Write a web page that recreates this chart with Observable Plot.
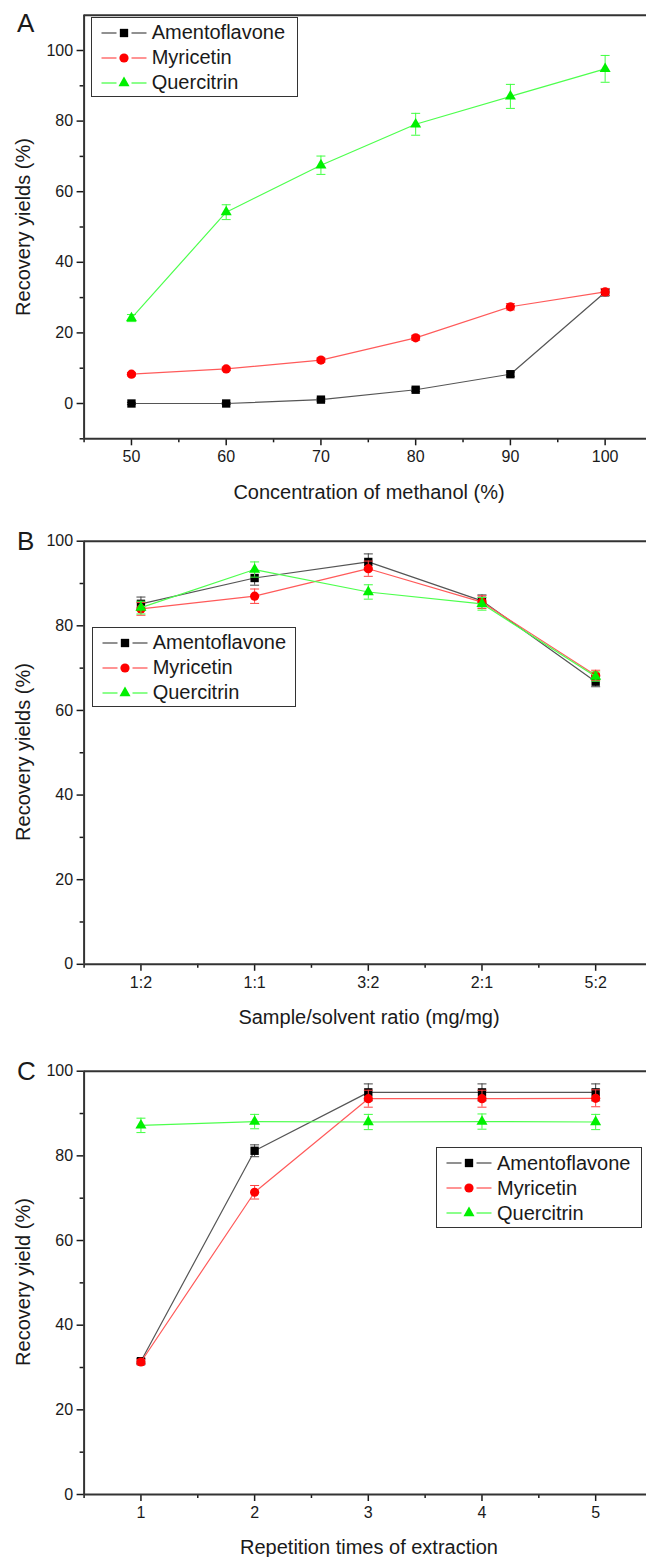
<!DOCTYPE html>
<html><head><meta charset="utf-8">
<script src="https://cdn.jsdelivr.net/npm/d3@7"></script>
<script src="https://cdn.jsdelivr.net/npm/@observablehq/plot@0.6"></script>
<style>
html,body{margin:0;background:#fff;font-family:Arial,"Liberation Sans",sans-serif;color:#1a1a1a;overflow:hidden}
#root{position:relative;width:646px;height:1557px;overflow:hidden;background:#fff}
.panel{position:absolute;left:0;width:646px;overflow:hidden}
.panel svg{max-width:none !important}
.letter{position:absolute;font-size:26px;line-height:1}
.xt{position:absolute;font-size:20px;line-height:1;white-space:nowrap;transform:translate(-50%,-50%)}
.yt{position:absolute;font-size:20px;line-height:1;white-space:nowrap;transform:translate(-50%,-50%) rotate(-90deg)}
.legend{position:absolute;border:1.5px solid #333;background:#fff;box-sizing:border-box}
.row{position:absolute;left:0;height:24px;display:flex;align-items:center;font-size:20px;white-space:nowrap}
</style></head><body><div id="root"></div>
<script>
// ---- shared ----
const seriesNames = ["Amentoflavone", "Myricetin", "Quercitrin"];
const seriesSymbols = ["square", "circle", "triangle"];
const lineColors = ["#555555", "#ff5a5a", "#4dff4d"];
const markerColors = ["#000000", "#ff0000", "#00f000"];
const errColors = ["#444444", "#ff4040", "#40ff40"];

// ---- Panel A: concentration of methanol ----
const methanolConc = [50, 60, 70, 80, 90, 100];
const aAmento = [0, 0, 1.1, 3.9, 8.3, 31.5];
const aAmentoErr = [0.3, 0.3, 0.4, 0.5, 0.6, 0.9];
const aMyric = [8.3, 9.8, 12.3, 18.6, 27.4, 31.6];
const aMyricErr = [0.5, 0.5, 0.6, 0.7, 0.9, 1.0];
const aQuerc = [24.2, 54.2, 67.5, 79.1, 87.0, 94.8];
const aQuercErr = [1.0, 2.1, 2.6, 3.1, 3.4, 3.8];
const aXTicks = [50, 60, 70, 80, 90, 100];
const aXMinor = [45, 55, 65, 75, 85, 95, 105];
const aYTicks = [0, 20, 40, 60, 80, 100];
const aYMinor = [-10, 10, 30, 50, 70, 90];

// ---- Panel B: sample/solvent ratio ----
const ratioLabels = ["1:2", "1:1", "3:2", "2:1", "5:2"];
const ratioPos = [1, 2, 3, 4, 5];
const bAmento = [85.2, 91.3, 95.1, 85.9, 66.8];
const bAmentoErr = [1.6, 1.7, 1.9, 1.4, 1.2];
const bMyric = [84.0, 87.0, 93.5, 85.6, 68.3];
const bMyricErr = [1.5, 1.7, 1.8, 1.5, 1.2];
const bQuerc = [84.3, 93.3, 88.0, 85.2, 68.0];
const bQuercErr = [1.5, 1.8, 1.7, 1.5, 1.1];

// ---- Panel C: repetition times ----
const repetitions = [1, 2, 3, 4, 5];
const cAmento = [31.5, 81.2, 95.0, 95.0, 95.0];
const cAmentoErr = [0.6, 1.4, 2.0, 2.0, 2.0];
const cMyric = [31.3, 71.4, 93.5, 93.5, 93.6];
const cMyricErr = [0.6, 1.6, 2.0, 2.0, 2.0];
const cQuerc = [87.2, 88.1, 88.0, 88.1, 88.0];
const cQuercErr = [1.7, 1.7, 1.8, 1.8, 1.8];

const catXMinor = [0.5, 1.5, 2.5, 3.5, 4.5, 5.5];
const pctTicks = [0, 20, 40, 60, 80, 100];
const pctMinor = [10, 30, 50, 70, 90];

const markerR = {square: 4.7, circle: 4.6, triangle: 4.1};
const capSymbol = {draw(ctx) { ctx.moveTo(-4.5, 0); ctx.lineTo(4.5, 0); }};

function rowsOf(xs, values, errs) {
  return xs.map((x, i) => ({x, y: values[i], e: errs[i]}));
}

const svgWidth = 652;

function makePlot(cfg) {
  const marks = [
    Plot.axisY(cfg.yMajor, {tickSize: 7, tickPadding: 4, strokeWidth: 1.5, label: null}),
    Plot.axisY(cfg.yMinor, {tickSize: 4, tickFormat: () => "", strokeWidth: 1.5, label: null}),
    Plot.axisX(cfg.xMajor, {tickSize: 7, tickPadding: 5, strokeWidth: 1.5, tickFormat: cfg.xFormat, label: null}),
    Plot.axisX(cfg.xMinor, {tickSize: 4, tickFormat: () => "", strokeWidth: 1.5, label: null}),
    Plot.ruleX([cfg.xDomain[0]], {stroke: "#333", strokeWidth: 2}),
    Plot.ruleY([cfg.yDomain[0], cfg.yDomain[1]], {stroke: "#333", strokeWidth: 2})
  ];
  cfg.series.forEach((rows, i) => {
    marks.push(Plot.line(rows, {x: "x", y: "y", stroke: lineColors[i], strokeWidth: 1.2}));
    marks.push(Plot.ruleX(rows, {x: "x", y1: d => d.y - d.e, y2: d => d.y + d.e, stroke: errColors[i], strokeWidth: 1}));
    marks.push(Plot.dot(rows, {x: "x", y: d => d.y + d.e, symbol: capSymbol, fill: "none", stroke: errColors[i], strokeWidth: 1}));
    marks.push(Plot.dot(rows, {x: "x", y: d => d.y - d.e, symbol: capSymbol, fill: "none", stroke: errColors[i], strokeWidth: 1}));
    marks.push(Plot.dot(rows, {x: "x", y: "y", symbol: seriesSymbols[i], r: markerR[seriesSymbols[i]], fill: markerColors[i], stroke: "none"}));
  });
  return Plot.plot({
    width: svgWidth, height: cfg.height,
    marginTop: cfg.marginTop, marginBottom: cfg.marginBottom, marginLeft: 83.6, marginRight: 0,
    x: {domain: cfg.xDomain}, y: {domain: cfg.yDomain},
    style: {fontSize: "16px", fontFamily: "Arial, 'Liberation Sans', sans-serif", color: "#1a1a1a", background: "transparent", overflow: "hidden", maxWidth: "none"},
    marks
  });
}

function legendBox(parent, left, top, width, height) {
  const box = document.createElement("div");
  box.className = "legend";
  Object.assign(box.style, {left: left + "px", top: top + "px", width: width + "px", height: height + "px"});
  seriesNames.forEach((name, i) => {
    const row = document.createElement("div");
    row.className = "row";
    row.style.top = (15.1 + 25 * i - 12) + "px";
    const svg = d3.create("svg").attr("width", 60).attr("height", 24).style("flex", "none");
    svg.append("line").attr("x1", 9.5).attr("x2", 24.5).attr("y1", 12).attr("y2", 12).attr("stroke", lineColors[i]).attr("stroke-width", 1.3);
    svg.append("line").attr("x1", 39.5).attr("x2", 54.5).attr("y1", 12).attr("y2", 12).attr("stroke", lineColors[i]).attr("stroke-width", 1.3);
    const sym = {square: d3.symbolSquare, circle: d3.symbolCircle, triangle: d3.symbolTriangle}[seriesSymbols[i]];
    const r = markerR[seriesSymbols[i]];
    svg.append("path").attr("transform", "translate(32,12)").attr("d", d3.symbol(sym, Math.PI * r * r)()).attr("fill", markerColors[i]);
    row.appendChild(svg.node());
    const t = document.createElement("span");
    t.textContent = name;
    row.appendChild(t);
    box.appendChild(row);
  });
  parent.appendChild(box);
}

function addText(parent, cls, text, x, y) {
  const el = document.createElement("div");
  el.className = cls;
  el.textContent = text;
  el.style.left = x + "px";
  el.style.top = y + "px";
  parent.appendChild(el);
}

const root = document.getElementById("root");

const panels = [
  {
    top: 0, height: 470, marginTop: 14.7, marginBottom: 31.7,
    xDomain: [45, 105], yDomain: [-10, 110],
    xMajor: aXTicks, xMinor: aXMinor, yMajor: aYTicks, yMinor: aYMinor, xFormat: d => String(d),
    series: [rowsOf(methanolConc, aAmento, aAmentoErr), rowsOf(methanolConc, aMyric, aMyricErr), rowsOf(methanolConc, aQuerc, aQuercErr)],
    letter: "A", letterTop: 10, xTitle: "Concentration of methanol (%)", xTitleY: 491.7,
    yTitle: "Recovery yields (%)", legend: [90.7, 16.7, 207, 80.6]
  },
  {
    top: 520, height: 475, marginTop: 20.7, marginBottom: 31.2,
    xDomain: [0.5, 5.5], yDomain: [0, 100],
    xMajor: ratioPos, xMinor: catXMinor, yMajor: pctTicks, yMinor: pctMinor, xFormat: d => ratioLabels[d - 1],
    series: [rowsOf(ratioPos, bAmento, bAmentoErr), rowsOf(ratioPos, bMyric, bMyricErr), rowsOf(ratioPos, bQuerc, bQuercErr)],
    letter: "B", letterTop: 528, xTitle: "Sample/solvent ratio (mg/mg)", xTitleY: 1016.7,
    yTitle: "Recovery yields (%)", legend: [91.7, 626.7, 204.5, 80.6]
  },
  {
    top: 1050, height: 476, marginTop: 20.7, marginBottom: 32,
    xDomain: [0.5, 5.5], yDomain: [0, 100],
    xMajor: repetitions, xMinor: catXMinor, yMajor: pctTicks, yMinor: pctMinor, xFormat: d => String(d),
    series: [rowsOf(repetitions, cAmento, cAmentoErr), rowsOf(repetitions, cMyric, cMyricErr), rowsOf(repetitions, cQuerc, cQuercErr)],
    letter: "C", letterTop: 1058, xTitle: "Repetition times of extraction", xTitleY: 1546.7,
    yTitle: "Recovery yield (%)", legend: [436, 1147.3, 206, 80.6]
  }
];

panels.forEach(cfg => {
  const div = document.createElement("div");
  div.className = "panel";
  div.style.top = cfg.top + "px";
  div.style.height = cfg.height + "px";
  div.appendChild(makePlot(cfg));
  root.appendChild(div);
  const plotTop = cfg.top + cfg.marginTop;
  const plotBottom = cfg.top + cfg.height - cfg.marginBottom;
  addText(root, "letter", cfg.letter, 17, cfg.letterTop);
  addText(root, "xt", cfg.xTitle, 369, cfg.xTitleY);
  addText(root, "yt", cfg.yTitle, 22.5, (plotTop + plotBottom) / 2);
  legendBox(root, ...cfg.legend);
});
</script>
</body></html>
